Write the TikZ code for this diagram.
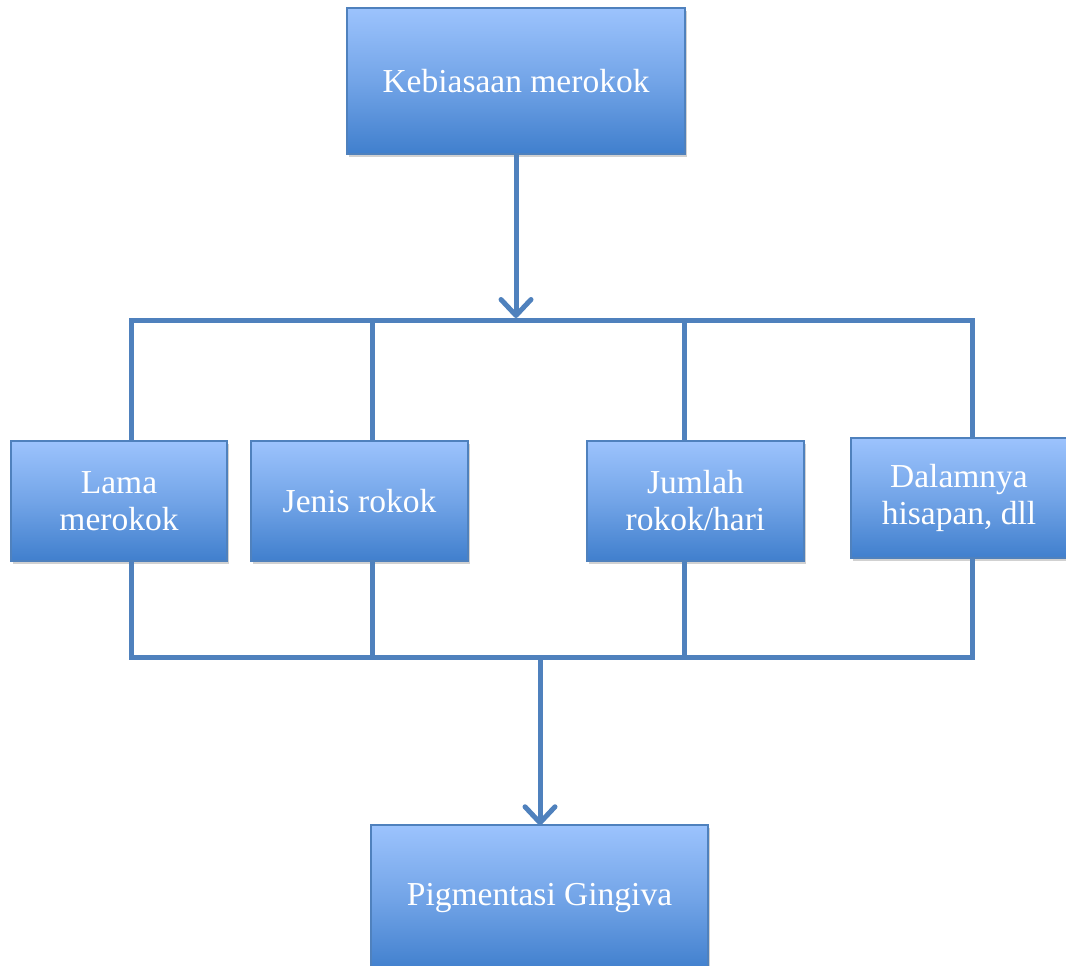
\documentclass[tikz,border=0pt]{standalone}
\usepackage{fontspec}
\setmainfont{Liberation Serif}
\usetikzlibrary{arrows.meta,shadows}
\definecolor{lineblue}{HTML}{4F81BD}
\definecolor{topblue}{HTML}{9CC3FD}
\definecolor{botblue}{HTML}{407FCD}
\tikzset{
  box/.style={draw=lineblue, line width=1.5pt, top color=topblue, bottom color=botblue,
    middle color=topblue!55!botblue,
    text=white, align=center, inner sep=0pt,
    font=\fontsize{33.5}{37}\selectfont,
    drop shadow={shadow xshift=2pt, shadow yshift=-3pt, opacity=0.3, fill=black!60}},
  conn/.style={draw=lineblue, line width=5pt},
  arr/.style={conn, -{Straight Barb[length=16pt, width=30pt, line width=5pt, round]}},
}
\begin{document}
\begin{tikzpicture}[x=1pt, y=-1pt]
\useasboundingbox (0,0) rectangle (1066,966);
\node[box, minimum width=338pt, minimum height=146pt] (K) at (516,81) {Kebiasaan merokok};
\node[box, minimum width=216pt, minimum height=120pt] (L1) at (119,501) {Lama\\merokok};
\node[box, minimum width=217pt, minimum height=120pt] (L2) at (359.5,501) {Jenis rokok};
\node[box, minimum width=217pt, minimum height=120pt] (L3) at (695.5,501) {Jumlah\\rokok/hari};
\node[box, minimum width=216pt, minimum height=120pt] (L4) at (959,498) {Dalamnya\\hisapan, dll};
\node[box, minimum width=337pt, minimum height=146pt] (P) at (539.5,898) {Pigmentasi Gingiva};
\coordinate (t1) at (131,320);
\coordinate (t2) at (372,320);
\coordinate (t3) at (684,320);
\coordinate (t4) at (972,320);
\coordinate (tm) at (516,318);
\coordinate (u1) at (131,657);
\coordinate (u2) at (372,657);
\coordinate (u3) at (684,657);
\coordinate (u4) at (972,657);
\coordinate (um) at (540,657);
\draw[conn] (t1 |- L1.north) -- (t1) -- (t4) -- (t4 |- L4.north);
\draw[conn] (t2) -- (t2 |- L2.north);
\draw[conn] (t3) -- (t3 |- L3.north);
\draw[conn] (u1 |- L1.south) -- (u1) -- (u4) -- (u4 |- L4.south);
\draw[conn] (u2) -- (u2 |- L2.south);
\draw[conn] (u3) -- (u3 |- L3.south);
\draw[arr] (K.south) -- (tm);
\draw[arr] (um) -- ([yshift=-1pt]P.north -| um);
\end{tikzpicture}
\end{document}
